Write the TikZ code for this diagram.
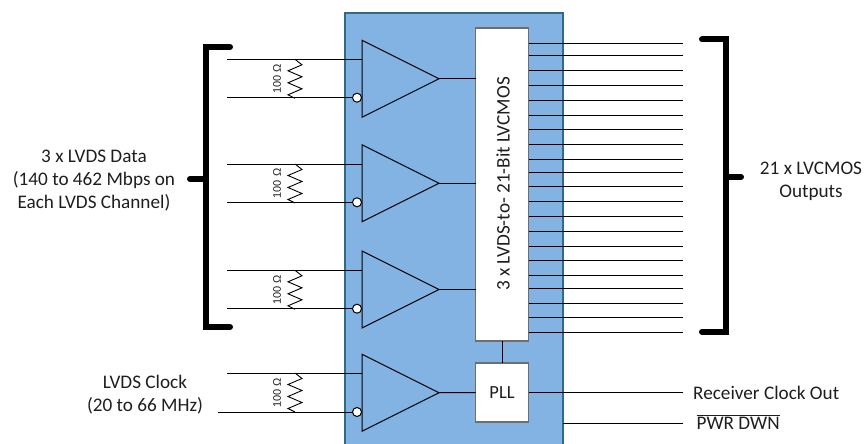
\documentclass[tikz,border=0pt]{standalone}
\usepackage{fontspec}
\setmainfont{Carlito}
\newfontfamily\labelfont{Liberation Sans}
\usetikzlibrary{shapes.geometric}
\definecolor{chipblue}{HTML}{82B3E2}
\definecolor{chipedge}{HTML}{2F6A8C}
\definecolor{boxedge}{HTML}{6E6E6E}
\definecolor{textdark}{HTML}{1E1E1E}
\tikzset{
  chipbox/.style={rectangle, draw=chipedge, fill=chipblue, line width=1.5pt, inner sep=0, outer sep=0, minimum width=218pt, minimum height=434pt},
  logicbox/.style={rectangle, draw=boxedge, fill=white, line width=1.8pt, inner sep=0, outer sep=0, minimum width=53pt},
  ampbox/.style={isosceles triangle, isosceles triangle stretches, draw=black, line width=1pt, inner sep=0, outer sep=0, minimum width=77pt, minimum height=77pt, anchor=apex},
  invdot/.style={circle, draw=black, fill=white, line width=1pt, inner sep=0, outer sep=0, minimum size=9pt},
  sigwire/.style={draw=black, line width=0.9pt},
  rackbar/.style={draw=black, line width=6pt, line cap=round, line join=miter},
  zigres/.style={insert path={-- ++(7,5.5) -- ++(-14,6) -- ++(14,6) -- ++(-14,6) -- ++(14,6) -- ++(-14,6) -- ++(7,3.5)}},
  reslabel/.style={font=\labelfont\fontsize{11}{12}\selectfont, text=textdark, rotate=90, inner sep=0},
  sidetext/.style={font=\fontsize{19.2}{23}\selectfont, text=textdark, align=center, inner sep=0},
}
\begin{document}
\begin{tikzpicture}[x=1pt,y=-1pt]
  \useasboundingbox (0,0) rectangle (865,444);
  \node[chipbox, anchor=north] (chip) at (454,13) {};
  \node[logicbox, minimum height=313pt, anchor=north] (conv) at (502,28) {};
  \node[rotate=90, font=\fontsize{19.2}{22}\selectfont, text=textdark, inner sep=0] (convtext) at (503,184) {3 x LVDS-to- 21-Bit LVCMOS};
  \node[logicbox, minimum height=59pt, anchor=north, font=\fontsize{18.5}{20}\selectfont, text=textdark] (pll) at (502,363) {PLL};
  \draw[sigwire] (conv) -- (pll);

  \coordinate (in1p) at (227,59.3);
  \coordinate (in1n) at (227,97.7);
  \coordinate (in2p) at (227,164);
  \coordinate (in2n) at (227,202.3);
  \coordinate (in3p) at (227,270.3);
  \coordinate (in3n) at (227,308.7);
  \coordinate (in4p) at (227,373);
  \coordinate (in4n) at (218,412);

  \node[ampbox] (amp1) at (439,78.7) {};
  \node[ampbox] (amp2) at (439,183.2) {};
  \node[ampbox] (amp3) at (439,289.5) {};
  \node[ampbox] (amp4) at (439,392.7) {};
  \draw[sigwire] (in1p) -- (in1p -| amp1.lower side);
  \draw[sigwire] (in2p) -- (in2p -| amp2.lower side);
  \draw[sigwire] (in3p) -- (in3p -| amp3.lower side);
  \draw[sigwire] (in4p) -- (in4p -| amp4.lower side);
  \node[invdot] (inv1) at (357,97.7) {};
  \node[invdot] (inv2) at (357,202.3) {};
  \node[invdot] (inv3) at (357,308.7) {};
  \node[invdot] (inv4) at (357,412) {};
  \draw[sigwire] (in1n) -- (inv1);
  \draw[sigwire] (in2n) -- (inv2);
  \draw[sigwire] (in3n) -- (inv3);
  \draw[sigwire] (in4n) -- (inv4);
  \draw[sigwire] (amp1.apex) -- (amp1.apex -| conv.west);
  \draw[sigwire] (amp2.apex) -- (amp2.apex -| conv.west);
  \draw[sigwire] (amp3.apex) -- (amp3.apex -| conv.west);
  \draw[sigwire] (amp4.apex) -- (pll);

  \coordinate (res1) at (295,59.3);
  \coordinate (res2) at (295,164);
  \coordinate (res3) at (295,270.3);
  \coordinate (res4) at (295,373);
  \draw[sigwire] (res1) [zigres];
  \draw[sigwire] (res2) [zigres];
  \draw[sigwire] (res3) [zigres];
  \draw[sigwire] (res4) [zigres];
  \node[reslabel] (lab1) at (277,79) {100 Ω};
  \node[reslabel] (lab2) at (277,183.5) {100 Ω};
  \node[reslabel] (lab3) at (277,290) {100 Ω};
  \node[reslabel] (lab4) at (277,393) {100 Ω};

  \coordinate (out1) at (683,43.3);
  \coordinate (out2) at (683,55.7);
  \coordinate (out3) at (683,70.7);
  \coordinate (out4) at (683,85.3);
  \coordinate (out5) at (683,100.3);
  \coordinate (out6) at (683,115);
  \coordinate (out7) at (683,129.7);
  \coordinate (out8) at (683,144.7);
  \coordinate (out9) at (683,159.3);
  \coordinate (out10) at (683,172);
  \coordinate (out11) at (683,186.7);
  \coordinate (out12) at (683,201.7);
  \coordinate (out13) at (683,216.3);
  \coordinate (out14) at (683,231);
  \coordinate (out15) at (683,246);
  \coordinate (out16) at (683,260.7);
  \coordinate (out17) at (683,275);
  \coordinate (out18) at (683,288);
  \coordinate (out19) at (683,303);
  \coordinate (out20) at (683,317.7);
  \coordinate (out21) at (683,332.3);
  \draw[sigwire] (out1 -| conv.east) -- (out1);
  \draw[sigwire] (out2 -| conv.east) -- (out2);
  \draw[sigwire] (out3 -| conv.east) -- (out3);
  \draw[sigwire] (out4 -| conv.east) -- (out4);
  \draw[sigwire] (out5 -| conv.east) -- (out5);
  \draw[sigwire] (out6 -| conv.east) -- (out6);
  \draw[sigwire] (out7 -| conv.east) -- (out7);
  \draw[sigwire] (out8 -| conv.east) -- (out8);
  \draw[sigwire] (out9 -| conv.east) -- (out9);
  \draw[sigwire] (out10 -| conv.east) -- (out10);
  \draw[sigwire] (out11 -| conv.east) -- (out11);
  \draw[sigwire] (out12 -| conv.east) -- (out12);
  \draw[sigwire] (out13 -| conv.east) -- (out13);
  \draw[sigwire] (out14 -| conv.east) -- (out14);
  \draw[sigwire] (out15 -| conv.east) -- (out15);
  \draw[sigwire] (out16 -| conv.east) -- (out16);
  \draw[sigwire] (out17 -| conv.east) -- (out17);
  \draw[sigwire] (out18 -| conv.east) -- (out18);
  \draw[sigwire] (out19 -| conv.east) -- (out19);
  \draw[sigwire] (out20 -| conv.east) -- (out20);
  \draw[sigwire] (out21 -| conv.east) -- (out21);

  \node[sidetext, anchor=west] (clkout) at (693,393) {Receiver Clock Out};
  \node[sidetext, anchor=west] (pwrdwn) at (696.5,422) {$\overline{\hbox{PWR DWN}}$};
  \coordinate (clkend) at (683,392.7);
  \coordinate (pwrend) at (683,423.3);
  \draw[sigwire] (clkend -| pll.east) -- (clkend);
  \draw[sigwire] (pwrend -| chip.east) -- (pwrend);

  \coordinate (lbtop) at (230,47);
  \coordinate (lbbot) at (230,327);
  \coordinate (lbtip) at (190,179);
  \coordinate (lbmid) at (206,179);
  \draw[rackbar] (lbtop) -- (206,47) -- (206,327) -- (lbbot);
  \draw[rackbar, line cap=butt] (lbmid) -- ++(-13,0);
  \draw[rackbar] (lbtip) -- ++(3,0);

  \coordinate (rbtop) at (702,39.5);
  \coordinate (rbbot) at (702,331.7);
  \coordinate (rbmid) at (726,177);
  \coordinate (rbtip) at (741,177);
  \draw[rackbar] (rbtop) -- (726,39.5) -- (726,331.7) -- (rbbot);
  \draw[rackbar] (rbmid) -- (rbtip);

  \node[sidetext] (datatext) at (94,181) {3 x LVDS Data\\(140 to 462 Mbps on\\Each LVDS Channel)};
  \node[sidetext] (clktext) at (145,395) {LVDS Clock\\(20 to 66 MHz)};
  \node[sidetext] (outtext) at (811,181.5) {21 x LVCMOS\\Outputs};
\end{tikzpicture}
\end{document}
